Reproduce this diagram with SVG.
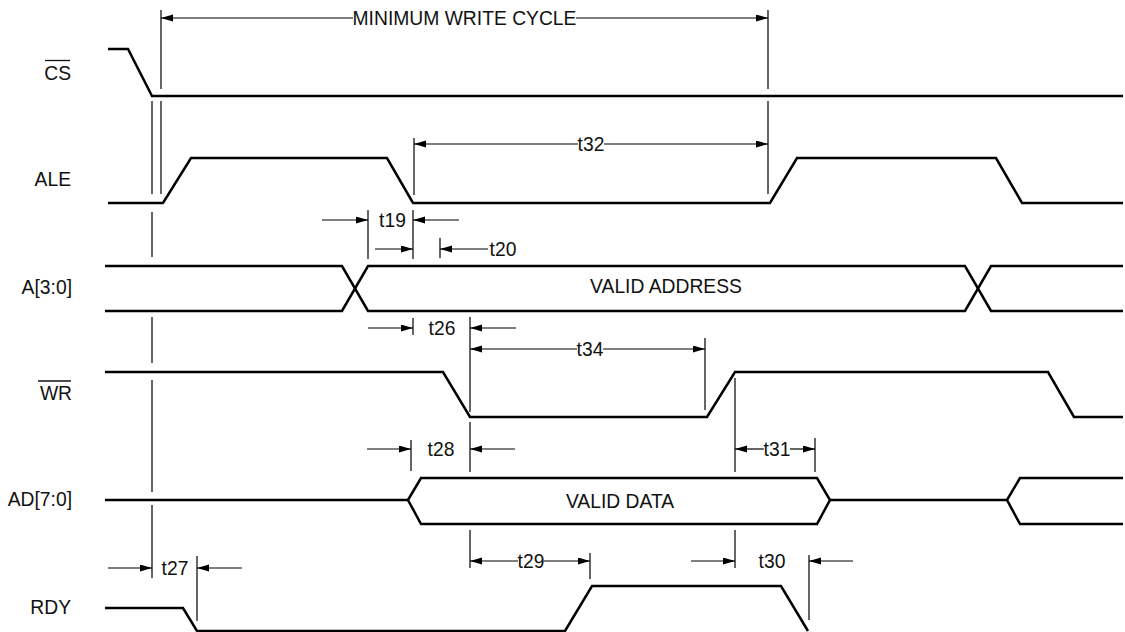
<svg xmlns="http://www.w3.org/2000/svg" width="1125" height="632" viewBox="0 0 1125 632">
<style>
.sig{fill:none;stroke:#000;stroke-width:2.5;stroke-linejoin:miter}
.lbl{font-family:"Liberation Sans",Arial,sans-serif;font-size:19.3px;fill:#111;text-anchor:end}
.tl{font-family:"Liberation Sans",Arial,sans-serif;font-size:19.3px;fill:#111;text-anchor:middle}
.ref{stroke:#000;stroke-width:1.2;fill:none}
.dim{stroke:#000;stroke-width:1.2;fill:none;marker-end:url(#ah)}
.dim2{stroke:#000;stroke-width:1.2;fill:none;marker-start:url(#ahs)}
.ov{stroke:#111;stroke-width:1.3}
</style>
<defs>
<marker id="ah" markerUnits="userSpaceOnUse" markerWidth="13" markerHeight="8" refX="12" refY="3.5" orient="auto"><path d="M0,0 L12,3.5 L0,7 z" fill="#000"/></marker>
<marker id="ahs" markerUnits="userSpaceOnUse" markerWidth="13" markerHeight="8" refX="12" refY="3.5" orient="auto-start-reverse"><path d="M0,0 L12,3.5 L0,7 z" fill="#000"/></marker>
</defs>
<rect width="1125" height="632" fill="#fff"/>

<g id="sig-cs">
<text class="lbl" x="71" y="80">CS</text>
<line class="ov" x1="45" y1="60.5" x2="70" y2="60.5"/>
<polyline class="sig" points="108,49 128,49 152,96 1123,96"/>
</g>
<g id="sig-ale">
<text class="lbl" x="71" y="186">ALE</text>
<polyline class="sig" points="108,203 163,203 191,158 387,158 413,203 770,203 797,158 996,158 1022,203 1123,203"/>
</g>
<g id="sig-a">
<text class="lbl" x="72" y="294">A[3:0]</text>
<polyline class="sig" points="105,266 342,266 368,311 965,311 991,266 1123,266"/>
<polyline class="sig" points="105,311 342,311 368,266 965,266 991,311 1123,311"/>
<text class="tl" x="666" y="293">VALID ADDRESS</text>
</g>
<g id="sig-wr">
<text class="lbl" x="72" y="400">WR</text>
<line class="ov" x1="38" y1="381" x2="71" y2="381"/>
<polyline class="sig" points="105,372 443,372 470,417 707,417 735,372 1048,372 1074,417 1123,417"/>
</g>
<g id="sig-ad">
<text class="lbl" x="72" y="506">AD[7:0]</text>
<polyline class="sig" points="105,500 408,500"/>
<polygon class="sig" points="408,500 421,478 817,478 830,500 817,524 421,524"/>
<polyline class="sig" points="830,500 1007,500"/>
<polyline class="sig" points="1123,478 1020,478 1007,500 1020,524 1123,524"/>
<text class="tl" x="620" y="508">VALID DATA</text>
</g>
<g id="sig-rdy">
<text class="lbl" x="71" y="614">RDY</text>
<polyline class="sig" points="105,608 183,608 197,631 565,631 592,586 781,586 808,631"/>
</g>

<g id="connectors">
<path class="ref" d="M152,101V194M152,212V257M152,317V363M152,380V492M152,505V578"/>
<path class="ref" d="M161,10V89M161,101V194"/>
<path class="ref" d="M768,10V89M768,101V194"/>
<path class="ref" d="M414,138V195"/>
<path class="ref" d="M368,210V259M413,210V259M440,238V258"/>
<path class="ref" d="M413,318V335M470,317V412M470,422V472M470,530V568"/>
<path class="ref" d="M705,338V410M735,378V472M735,530V568"/>
<path class="ref" d="M411,440V471M815,438V472"/>
<path class="ref" d="M590,553V579M809,555V620M197,556V621"/>

<line class="dim2" x1="161" y1="18" x2="353" y2="18"/>
<line class="dim" x1="576" y1="18" x2="768" y2="18"/>
<text class="tl" x="464.5" y="24.5">MINIMUM WRITE CYCLE</text>

<line class="dim2" x1="414" y1="144" x2="578" y2="144"/>
<line class="dim" x1="604" y1="144" x2="768" y2="144"/>
<text class="tl" x="591" y="150.5">t32</text>

<line class="dim" x1="322" y1="220" x2="368" y2="220"/>
<line class="dim" x1="459" y1="220" x2="413" y2="220"/>
<text class="tl" x="392.5" y="226.5">t19</text>

<line class="dim" x1="375" y1="249" x2="413" y2="249"/>
<line class="dim" x1="488" y1="249" x2="440" y2="249"/>
<text class="tl" x="503" y="255.5">t20</text>

<line class="dim" x1="368" y1="328" x2="413" y2="328"/>
<line class="dim" x1="516" y1="328" x2="470" y2="328"/>
<text class="tl" x="442" y="334.5">t26</text>

<line class="dim2" x1="470" y1="349" x2="577" y2="349"/>
<line class="dim" x1="603" y1="349" x2="705" y2="349"/>
<text class="tl" x="590" y="355.5">t34</text>

<line class="dim" x1="367" y1="449" x2="411" y2="449"/>
<line class="dim" x1="515" y1="449" x2="470" y2="449"/>
<text class="tl" x="441" y="455.5">t28</text>

<line class="dim2" x1="735" y1="449" x2="764" y2="449"/>
<line class="dim" x1="790" y1="449" x2="815" y2="449"/>
<text class="tl" x="777" y="455.5">t31</text>

<line class="dim2" x1="470" y1="561" x2="518" y2="561"/>
<line class="dim" x1="544" y1="561" x2="590" y2="561"/>
<text class="tl" x="531" y="567.5">t29</text>

<line class="dim" x1="691" y1="561" x2="735" y2="561"/>
<line class="dim" x1="853" y1="561" x2="809" y2="561"/>
<text class="tl" x="772" y="567.5">t30</text>

<line class="dim" x1="108" y1="568" x2="152" y2="568"/>
<line class="dim" x1="242" y1="568" x2="197" y2="568"/>
<text class="tl" x="175" y="574.5">t27</text>
</g>
</svg>
